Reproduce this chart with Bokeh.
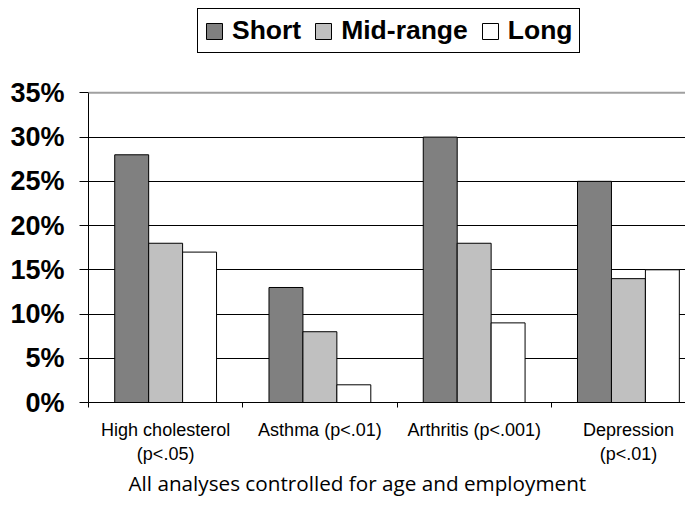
import numpy as np
from bokeh.plotting import figure
from bokeh.models import Range1d, FixedTicker, Legend, LegendItem, Span, Title
from bokeh.embed import file_html
from bokeh.resources import INLINE

# ---- data ----
categories = ["High cholesterol\n(p<.05)", "Asthma (p<.01)", "Arthritis (p<.001)", "Depression\n(p<.01)"]
series_names = ["Short", "Mid-range", "Long"]
short_vals = [28, 13, 30, 25]
mid_vals = [18, 8, 18, 14]
long_vals = [17, 2, 9, 15]
y_ticks = [0, 5, 10, 15, 20, 25, 30, 35]
y_tick_labels = ["0%", "5%", "10%", "15%", "20%", "25%", "30%", "35%"]
footnote = "All analyses controlled for age and employment"

colors = ["#808080", "#C0C0C0", "#FFFFFF"]
bar_w = 0.22

# frame spans from the canvas top (room for the legend) down to the 0% line
p = figure(width=685, height=501, output_backend="svg", toolbar_location=None,
           x_range=Range1d(0, 3.87), y_range=Range1d(0, 45.44))
p.min_border_left = 88
p.min_border_right = 0
p.min_border_top = 0
p.min_border_bottom = 99
p.outline_line_color = None
p.background_fill_color = "white"
p.border_fill_color = "white"

centers = np.arange(len(categories)) + 0.5
renderers = []
for vals, off, col in zip([short_vals, mid_vals, long_vals], [-bar_w, 0, bar_w], colors):
    r = p.vbar(x=centers + off, top=vals, bottom=0, width=bar_w,
               fill_color=col, line_color="black", line_width=1)
    renderers.append(r)

# grid
p.xgrid.visible = False
p.ygrid.ticker = FixedTicker(ticks=y_ticks[1:-1])
p.ygrid.grid_line_color = "black"
p.ygrid.grid_line_width = 1
p.add_layout(Span(location=y_ticks[-1], dimension="width", line_color="#a0a0a0", line_width=2))

# y axis
yax = p.yaxis[0]
yax.bounds = (y_ticks[0], y_ticks[-1])
yax.ticker = FixedTicker(ticks=y_ticks, minor_ticks=[])
yax.major_label_overrides = {t: l for t, l in zip(y_ticks, y_tick_labels)}
yax.major_label_text_font = "Liberation Sans"
yax.major_label_text_font_style = "bold"
yax.major_label_text_font_size = "27px"
yax.major_label_text_color = "black"
yax.major_tick_out = 9
yax.major_tick_in = 0
yax.major_tick_line_color = "black"
yax.axis_line_color = "black"
yax.major_label_standoff = 15

# x axis
xax = p.xaxis[0]
xax.ticker = FixedTicker(ticks=list(centers), minor_ticks=list(range(len(categories))))
xax.major_label_overrides = {float(c): l for c, l in zip(centers, categories)}
xax.major_label_text_font = "Liberation Sans"
xax.major_label_text_font_size = "18px"
xax.major_label_text_color = "black"
xax.major_label_text_line_height = 1.2
xax.major_tick_out = 0
xax.major_tick_in = 0
xax.minor_tick_out = 5
xax.minor_tick_in = 0
xax.minor_tick_line_color = "black"
xax.axis_line_color = "black"
xax.major_label_standoff = 12

# footnote
p.add_layout(Title(text=footnote, align="left", offset=40, standoff=0,
                   text_font="Open Sans", text_font_size="20.7px", text_font_style="normal",
                   text_color="black"), "below")

# legend (inside the tall frame, above the 35% line)
items = [LegendItem(label=n, renderers=[r]) for n, r in zip(series_names, renderers)]
legend = Legend(items=items, orientation="horizontal", location=(109, 349),
                label_text_font="Liberation Sans", label_text_font_style="bold",
                label_text_font_size="26.5px", label_text_color="black",
                glyph_width=20, glyph_height=20, label_standoff=8, spacing=12,
                padding=6, margin=0, border_line_color="black", border_line_width=1.5,
                border_line_alpha=1.0,
                background_fill_color="white", background_fill_alpha=1.0)
p.add_layout(legend, "center")

open("out.html", "w").write(file_html(p, INLINE))
